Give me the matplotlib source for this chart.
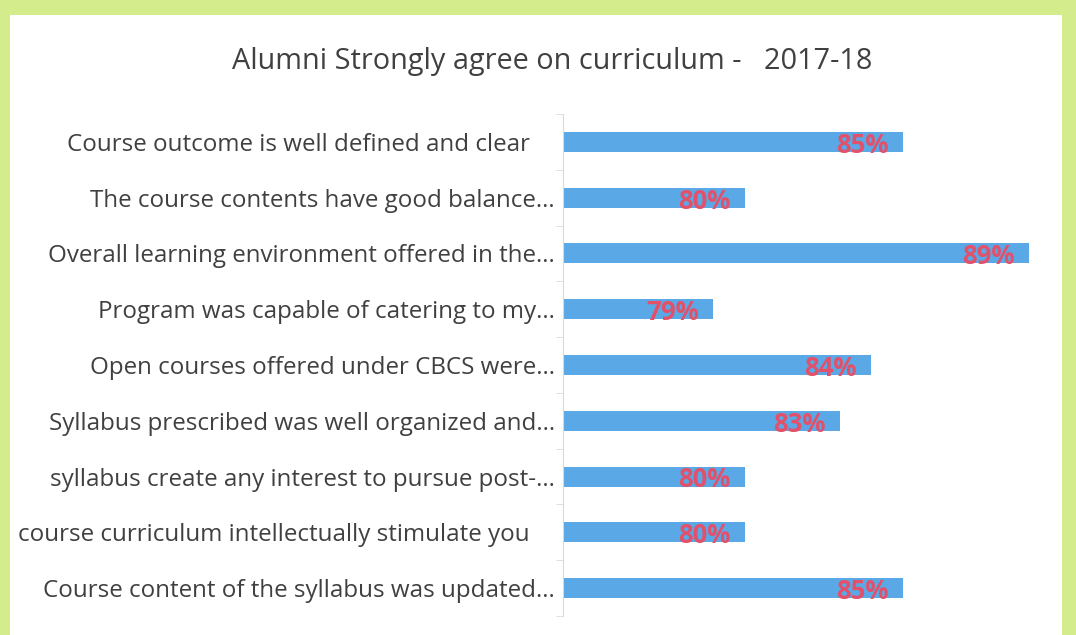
# Alumni feedback on curriculum 2017-18 - horizontal bar chart
import matplotlib.pyplot as plt
from matplotlib.patches import Rectangle

# data (top to bottom as in the chart)
preguntas = [
    "Course outcome is well defined and clear",
    "The course contents have good balance...",
    "Overall learning environment offered in the...",
    "Program was capable of catering to my...",
    "Open courses offered under CBCS were...",
    "Syllabus prescribed was well organized and...",
    "syllabus create any interest to pursue post-...",
    "course curriculum intellectually stimulate you",
    "Course content of the syllabus was updated...",
]
porcentajes = [85, 80, 89, 79, 84, 83, 80, 80, 85]

azul = "#5aa9e6"
rojo = "#e2506a"
verde = "#d5ec8c"

plt.rcParams['font.family'] = ['Open Sans', 'DejaVu Sans']

fig = plt.figure(figsize=(10.76, 6.35), dpi=100, facecolor=verde)
# white panel on the green background
fig.patches.append(Rectangle((10/1076, 0), 1052/1076, 1 - 15/635,
                             transform=fig.transFigure, facecolor="white",
                             edgecolor="none", zorder=-5))

ax = fig.add_axes([563/1076, 1 - 616/635, (1045 - 563)/1076, (616 - 114)/635])
ax.set_facecolor("none")
ax.set_zorder(2)

y = range(len(preguntas))
ax.barh(y, porcentajes, left=0, height=0.36, color=azul, zorder=2)
ax.set_xlim(74.24, 89.5)
ax.set_ylim(len(preguntas) - 0.5, -0.5)

for i, v in enumerate(porcentajes):
    ax.text(v - 0.45, i + 0.06, f"{v}%", ha="right", va="center",
            color=rojo, fontsize=18.5, fontweight="bold", zorder=3)

# labels without ellipsis sit a little further from the axis
etiquetas = [p if p.endswith("...") else p + "    " for p in preguntas]
ax.set_yticks(list(y))
ax.set_yticklabels(etiquetas, fontsize=17.4, color="#404040")
ax.tick_params(axis="y", length=0, pad=6)
ax.set_yticks([i - 0.5 for i in range(len(preguntas) + 1)], minor=True)
ax.tick_params(axis="y", which="minor", length=5, color="#d9d9d9")
ax.set_xticks([])

for s in ["top", "right", "bottom"]:
    ax.spines[s].set_visible(False)
ax.spines["left"].set_color("#d9d9d9")

fig.text(552/1076, 1 - 62/635, "Alumni Strongly agree on curriculum -   2017-18",
         ha="center", va="center", fontsize=20.8, color="#404040")

fig.savefig("out.png", dpi=100, facecolor=verde)
